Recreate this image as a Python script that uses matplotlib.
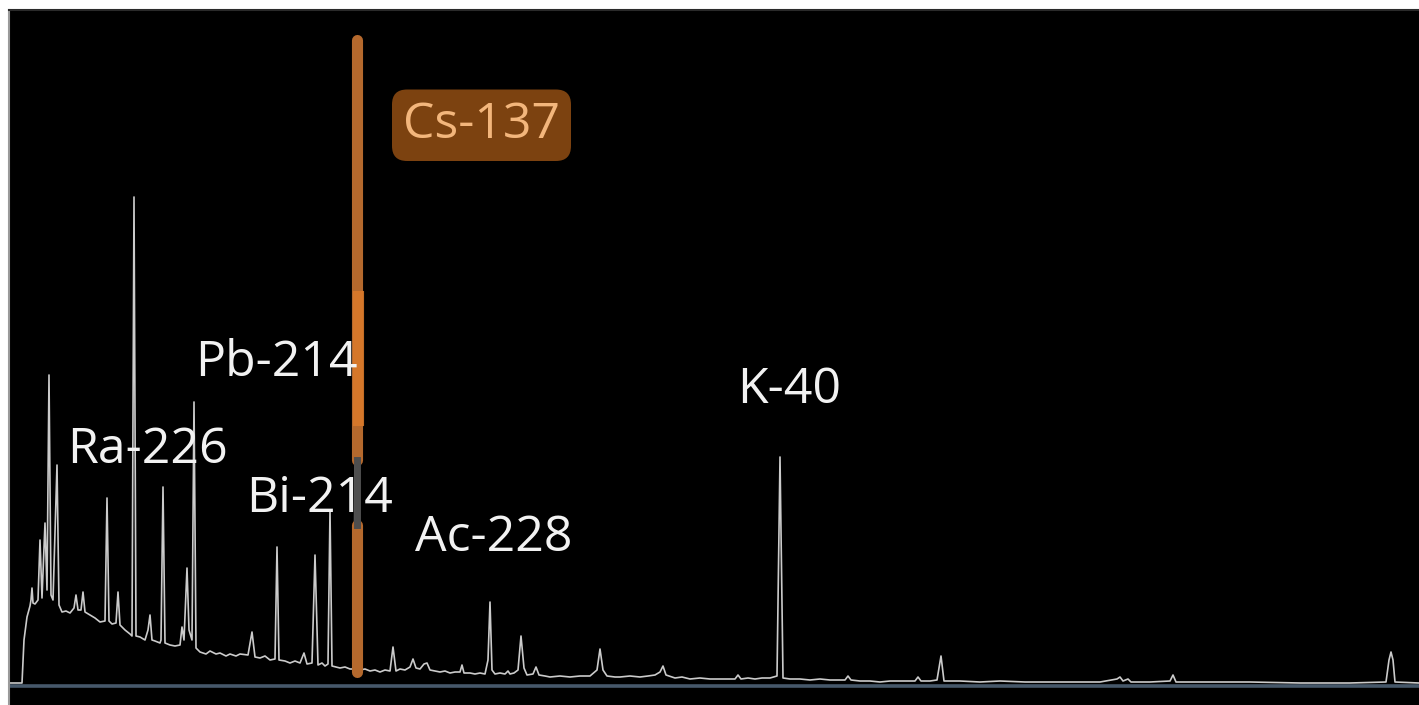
import numpy as np
import matplotlib.pyplot as plt

plt.rcParams['font.family'] = ['Open Sans', 'DejaVu Sans']

# gamma spectrum: channel vs counts (arbitrary units)
channel = [10, 22, 24, 27, 30, 31, 32, 33, 35, 38, 40, 42, 45, 47, 49, 51, 53, 57, 59,
           62, 66, 70, 74, 76, 78, 81, 83, 85, 90, 95, 100, 105, 107, 109, 112, 116,
           118, 120, 125, 130, 132, 134, 136, 140, 145, 148, 150, 152, 155, 160, 161,
           163, 165, 170, 175, 180, 182, 184, 187, 189, 192, 194, 196, 200, 206, 210,
           216, 220, 226, 230, 236, 240, 248, 252, 255, 260, 265, 270, 275, 277, 279,
           285, 290, 295, 300, 304, 307, 312, 315, 318, 322, 325, 328, 330, 332, 336,
           340, 345, 350, 354, 357, 360, 365, 370, 375, 380, 385, 390, 393, 396, 400,
           405, 410, 413, 416, 420, 424, 427, 430, 435, 440, 445, 450, 455, 460, 462,
           464, 470, 475, 480, 485, 488, 490, 492, 495, 500, 505, 508, 510, 514, 518,
           521, 524, 527, 533, 536, 539, 545, 550, 560, 570, 580, 590, 597, 600, 603,
           607, 615, 620, 630, 640, 648, 655, 660, 663, 666, 675, 682, 690, 700, 710,
           720, 735, 738, 741, 748, 755, 762, 770, 777, 780, 783, 790, 800, 810, 820,
           830, 845, 848, 851, 860, 870, 880, 890, 900, 915, 918, 921, 930, 937, 941,
           944, 960, 980, 1000, 1025, 1050, 1075, 1100, 1117, 1120, 1123, 1128, 1131,
           1150, 1170, 1173, 1176, 1200, 1250, 1300, 1350, 1386, 1389, 1391, 1393,
           1395, 1419]
counts = [1, 1, 44, 67, 78, 84, 96, 81, 80, 84, 144, 86, 161, 94, 309, 89, 84, 219, 79,
          72, 73, 71, 76, 89, 74, 74, 92, 72, 69, 66, 62, 63, 186, 63, 60, 61,
          92, 59, 54, 50, 48, 487, 48, 47, 44, 54, 69, 44, 43, 41, 44,
          197, 41, 39, 38, 39, 57, 44, 116, 54, 44, 282, 36, 32, 30, 33,
          30, 31, 28, 30, 28, 30, 29, 52, 27, 26, 28, 24, 25, 137, 24,
          23, 21, 23, 21, 31, 20, 21, 129, 19, 21, 18, 20, 174, 18, 17,
          16, 17, 15, 15, 644, 14, 15, 13, 14, 12, 14, 13, 37, 13, 15,
          14, 17, 25, 16, 15, 20, 21, 14, 13, 12, 13, 11, 12, 12, 19,
          11, 11, 10, 11, 10, 24, 82, 14, 10, 11, 10, 13, 10, 11, 14,
          48, 16, 9, 10, 17, 9, 8, 7, 8, 7, 8, 8, 14, 35, 14,
          8, 7, 7, 8, 7, 8, 9, 12, 18, 9, 6, 7, 5, 6, 5,
          5, 5, 9, 5, 6, 5, 6, 6, 8, 227, 6, 5, 5, 4, 5,
          4, 4, 8, 4, 3, 3, 2, 3, 3, 3, 7, 3, 3, 4, 28,
          3, 3, 2, 3, 2, 2, 2, 2, 5, 7, 3, 5, 2,
          2, 3, 9, 2, 2, 2, 1, 1, 2, 24, 32, 24,
          2, 1]

# nuclide labels: text, channel, baseline counts
labels = ['Ra-226', 'Pb-214', 'Bi-214', 'Ac-228', 'K-40']
label_ch = [67, 195, 246, 415, 737]
label_y = [221, 308, 172, 133, 281]

# highlighted peak
cs_label = 'Cs-137'
cs_channel = 357
cs_label_pos = (403, 546)

fig = plt.figure(figsize=(14.19, 7.05), dpi=100, facecolor='white')
ax = fig.add_axes([9 / 1419, 0, 1410 / 1419, 695 / 705])
ax.set_facecolor('black')

# axis baseline
ax.axhline(-1.5, color='#46586a', lw=2.6, zorder=1)

# spectrum
ax.plot(channel, counts, color='#cbcbcb', lw=1.2, zorder=2)

# hand-drawn style highlight over the Cs-137 peak
cs_top = counts[channel.index(cs_channel)]
ax.plot([cs_channel, cs_channel], [cs_top, 224], color='#b5692d', lw=8,
        solid_capstyle='round', zorder=3)
ax.plot([cs_channel, cs_channel], [159, 12], color='#b5692d', lw=8,
        solid_capstyle='round', zorder=3)
ax.plot([cs_channel, cs_channel], [224, 159], color='#4e4e4e', lw=5, zorder=3)
ax.plot([cs_channel + 1, cs_channel + 1], [388, 264], color='#d9792a', lw=8,
        alpha=0.9, zorder=4)

for txt, x, y in zip(labels, label_ch, label_y):
    ax.text(x, y, txt, color='#f2f2f2', fontsize=36, ha='left', va='baseline', zorder=5)

ax.text(cs_label_pos[0], cs_label_pos[1], cs_label, color='#f3b67c', fontsize=36,
        ha='left', va='baseline', zorder=5,
        bbox=dict(boxstyle='round,pad=0.22,rounding_size=0.3', fc='#7c4210', ec='none'))

ax.set_xlim(9, 1419)
ax.set_ylim(-21, 674)
ax.set_xticks([])
ax.set_yticks([])
for s in ['right', 'bottom']:
    ax.spines[s].set_visible(False)
ax.spines['left'].set_color('#9a9a9a')
ax.spines['left'].set_linewidth(1.5)
ax.spines['top'].set_color('#2a2a2a')
ax.spines['top'].set_linewidth(1.5)

fig.savefig('out.png', dpi=100, facecolor='white')
